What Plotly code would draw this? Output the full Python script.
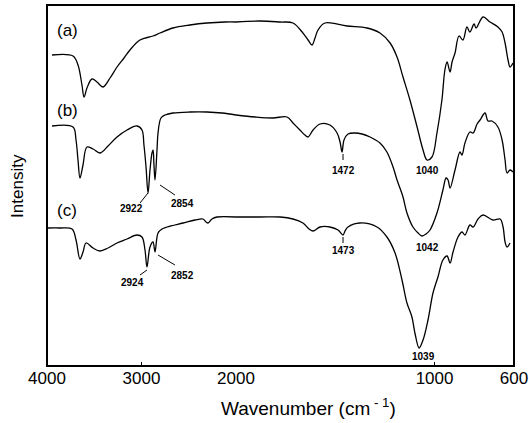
import plotly.graph_objects as go

# ---------------- data (wavenumber cm^-1, intensity a.u.) ----------------
wn_a = [3947, 3725, 3672, 3630, 3608, 3577, 3524, 3471, 3407, 3333, 3259, 3185, 3122, 3016,
        2878, 2804, 2667, 2487, 2307, 2116, 2000,
        1879, 1778, 1713, 1663, 1637, 1617, 1602, 1587, 1552, 1441, 1340, 1275, 1224, 1189,
        1159, 1124, 1088, 1058, 1038, 1013, 988, 963, 948, 937, 922, 912, 897, 877, 857,
        837, 822, 801, 791, 756, 721, 681, 660, 645, 630, 620, 605]
int_a = [311, 310, 301, 281, 269, 278, 287, 284, 279, 288, 299, 308, 316, 326,
         330, 333, 338, 341, 343, 344, 344,
         345, 344, 343, 333, 326, 321, 328, 336, 343, 340, 338, 333, 323, 309,
         289, 266, 239, 216, 206, 209, 233, 266, 296, 304, 294, 304, 313, 330, 326,
         339, 334, 342, 338, 349, 344, 339, 334, 323, 306, 299, 303]

wn_b = [3947, 3725, 3693, 3672, 3651, 3619, 3577, 3513, 3439, 3354, 3259, 3153, 3048, 2995,
        2974, 2952, 2931, 2910, 2889, 2878, 2868, 2857, 2836, 2825, 2794, 2751, 2667, 2487,
        2307, 2148, 2000,
        1904, 1814, 1743, 1713, 1678, 1653, 1637, 1612, 1577, 1527, 1491, 1476, 1466, 1456,
        1436, 1401, 1365, 1325, 1275, 1240, 1209, 1189, 1159, 1139, 1109, 1083, 1063, 1043,
        1023, 988, 958, 942, 932, 922, 897, 872, 862, 847, 822, 806, 786, 771, 746, 731, 711,
        681, 660, 645, 635, 620, 605]
int_b = [240, 239, 226, 206, 188, 201, 219, 217, 213, 220, 229, 236, 240, 236,
         221, 199, 173, 196, 213, 216, 201, 186, 216, 233, 248, 251, 253, 254,
         254, 253, 251,
         249, 248, 249, 243, 236, 231, 229, 236, 242, 241, 233, 224, 214, 226,
         232, 233, 232, 229, 223, 214, 199, 186, 169, 153, 139, 133, 130, 132,
         136, 153, 176, 188, 186, 178, 196, 214, 211, 223, 234, 233, 242, 246, 253, 245, 245,
         239, 226, 206, 193, 196, 194]

wn_c = [3989, 3862, 3735, 3693, 3651, 3619, 3587, 3513, 3439, 3354, 3259, 3153, 3048, 2995,
        2963, 2942, 2910, 2878, 2857, 2825, 2783, 2730, 2561, 2434, 2349, 2317, 2296, 2254,
        2201, 2000,
        1879, 1778, 1713, 1663, 1632, 1612, 1577, 1527, 1486, 1461, 1451, 1436, 1376, 1290,
        1240, 1199, 1164, 1139, 1114, 1099, 1078, 1058, 1033, 1008, 983, 958, 937, 922, 907,
        882, 862, 847, 822, 806, 781, 756, 706, 670, 655, 645, 635, 620]
int_c = [138, 138, 137, 126, 107, 114, 123, 118, 115, 118, 123, 127, 131, 129,
         116, 99, 119, 124, 114, 133, 137, 139, 143, 146, 147, 144, 143, 147,
         149, 149,
         149, 149, 147, 143, 137, 135, 139, 139, 136, 131, 135, 139, 143, 139,
         129, 113, 86, 63, 49, 33, 18, 26, 46, 73, 89, 106, 110, 103, 114,
         129, 134, 131, 141, 139, 147, 151, 146, 147, 139, 124, 119, 123]

series_names = ["(a)", "(b)", "(c)"]
series_wn = [wn_a, wn_b, wn_c]
series_int = [int_a, int_b, int_c]

# series label positions (wavenumber, intensity)
label_wn = [3778, 3778, 3788]
label_int = [336, 256, 156]

# peak labels: text, wavenumber, intensity
peak_text = ["2922", "2854", "1472", "1040", "2924", "2852", "1473", "1042", "1039"]
peak_wn = [3111, 2571, 1461, 1038, 3090, 2561, 1461, 1038, 1058]
peak_int = [158, 163, 196, 196, 84, 91, 116, 119, 10]

# leader lines: (wn0, int0, wn1, int1)
leaders = [(3016, 163, 2931, 173), (2804, 181, 2646, 171),
           (3016, 91, 2942, 96), (2825, 111, 2646, 101)]
ticks_short = [(1461, 212, 1461, 206), (1461, 129, 1461, 123)]

tick_left = [4000, 3000, 2000]
tick_right = [1000, 600]

SPLIT = 2000
D = 0.4047

fig = go.Figure()
for name, wn, it in zip(series_names, series_wn, series_int):
    lw = [w for w in wn if w >= SPLIT]
    li = [v for w, v in zip(wn, it) if w >= SPLIT]
    rw = [w for w in wn if w <= SPLIT]
    ri = [v for w, v in zip(wn, it) if w <= SPLIT]
    fig.add_trace(go.Scatter(x=lw, y=li, mode="lines", xaxis="x", yaxis="y",
                             line=dict(color="black", width=1.3), name=name,
                             showlegend=False, line_shape="spline"))
    fig.add_trace(go.Scatter(x=rw, y=ri, mode="lines", xaxis="x2", yaxis="y",
                             line=dict(color="black", width=1.3), name=name,
                             showlegend=False, line_shape="spline"))

FONT = "Liberation Sans, Arial, sans-serif"
ann = []
for t, w, v in zip(series_names, label_wn, label_int):
    ann.append(dict(x=w, y=v, xref="x", yref="y", text=t, showarrow=False,
                    font=dict(size=17, family=FONT, color="black")))
for t, w, v in zip(peak_text, peak_wn, peak_int):
    ax = "x" if w >= SPLIT else "x2"
    ann.append(dict(x=w, y=v, xref=ax, yref="y", text="<b>%s</b>" % t, showarrow=False,
                    font=dict(size=10, family=FONT, color="black")))
ann.append(dict(x=0.5, y=-0.152, xref="paper", yref="paper", xshift=28,
                text="Wavenumber (cm<sup> - 1</sup>)", showarrow=False,
                font=dict(size=19, family=FONT, color="black")))
ann.append(dict(x=-0.088, y=0.5, xref="paper", yref="paper", text="Intensity",
                textangle=-90, showarrow=False,
                font=dict(size=17, family=FONT, color="black")))

shapes = [dict(type="rect", xref="paper", yref="paper", x0=0, x1=1, y0=0, y1=1,
               line=dict(color="black", width=2))]
for (w0, i0, w1, i1) in leaders + ticks_short:
    ax = "x" if w0 >= SPLIT else "x2"
    shapes.append(dict(type="line", xref=ax, yref="y", x0=w0, y0=i0, x1=w1, y1=i1,
                       line=dict(color="black", width=1)))

axis_common = dict(showgrid=False, zeroline=False, showline=False, ticks="inside",
                   ticklen=4, tickwidth=1, tickcolor="black", automargin=False,
                   tickfont=dict(size=17, family=FONT, color="black"))

fig.update_layout(
    width=529, height=423,
    margin=dict(l=47, r=15, t=5, b=57, autoexpand=False),
    paper_bgcolor="white", plot_bgcolor="white",
    xaxis=dict(domain=[0, D], range=[4000, 2000], tickvals=tick_left,
               ticktext=[str(v) for v in tick_left], anchor="y", **axis_common),
    xaxis2=dict(domain=[D, 1], range=[2000, 600], tickvals=tick_right,
                ticktext=[str(v) for v in tick_right], anchor="y", **axis_common),
    yaxis=dict(range=[0, 361], showticklabels=False, showgrid=False, zeroline=False,
               showline=False, ticks="", automargin=False),
)
fig.update_layout(annotations=ann, shapes=shapes)

fig.write_html("out.html", config={"displayModeBar": False},
               post_script="document.body.style.margin='0px';document.body.style.overflow='hidden';")
